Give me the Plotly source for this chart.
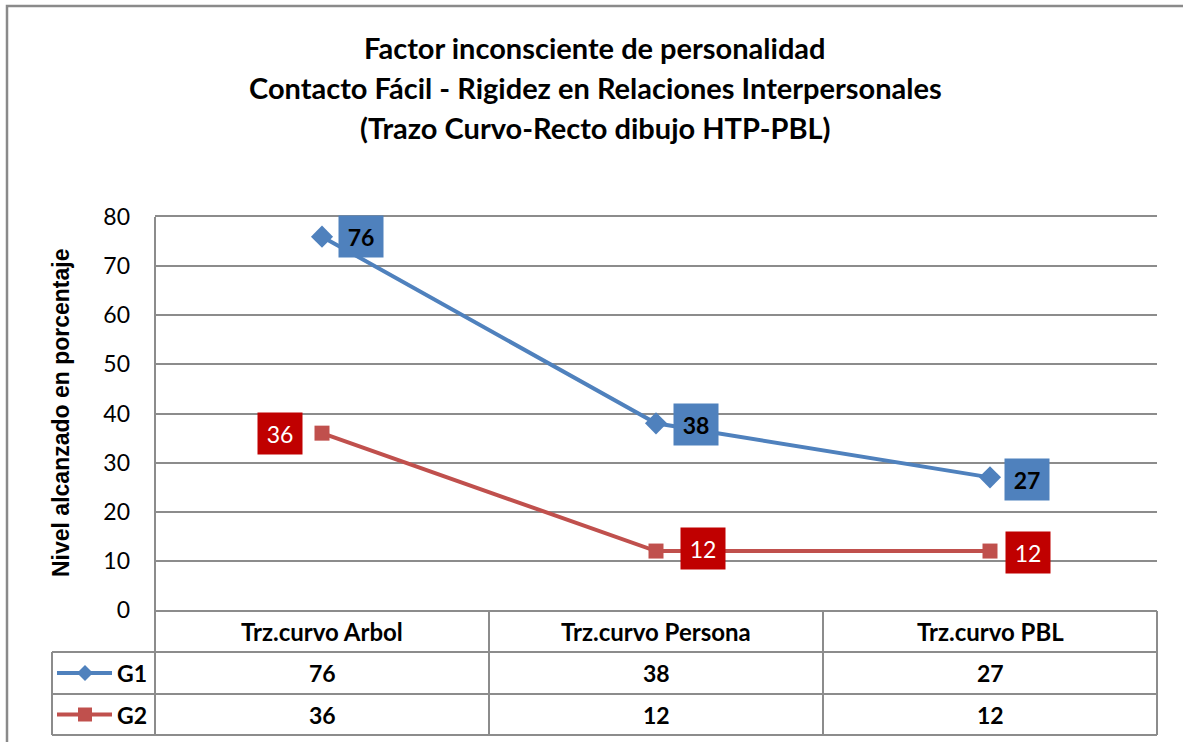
import plotly.graph_objects as go

# data
categorias = ["Trz.curvo Arbol", "Trz.curvo Persona", "Trz.curvo PBL"]
g1 = [76, 38, 27]
g2 = [36, 12, 12]
series_names = ["G1", "G2"]
titulo = ["Factor inconsciente de personalidad",
          "Contacto Fácil - Rigidez en Relaciones Interpersonales",
          "(Trazo Curvo-Recto dibujo HTP-PBL)"]
eje_y = "Nivel alcanzado en porcentaje"

BLUE = "#4F81BD"
RED = "#C0504D"
DARKRED = "#C00000"
GRID = "#8c8c8c"
FONT = "Lato"

# plot area in pixels
L, R, T, B = 155, 1157, 217, 610
W, H = R - L, B - T


def px(x):
    return (x - L) / W


def py(y):
    return (B - y) / H


fig = go.Figure()
fig.add_trace(go.Scatter(x=categorias, y=g1, name="G1", mode="lines+markers",
                         line=dict(color=BLUE, width=4),
                         marker=dict(symbol="diamond", size=17, color=BLUE)))
fig.add_trace(go.Scatter(x=categorias, y=g2, name="G2", mode="lines+markers",
                         line=dict(color=RED, width=4),
                         marker=dict(symbol="square", size=15, color=RED)))

ann = []
# title lines
for i, t in enumerate(titulo):
    ann.append(dict(text="<b>%s</b>" % t, x=px(595), y=py(47 + 40 * i), xref="paper", yref="paper",
                    showarrow=False, xanchor="center", yanchor="middle",
                    font=dict(family=FONT, size=29, color="black")))

# y axis title
ann.append(dict(text="<b>%s</b>" % eje_y, x=px(61), y=py(413), xref="paper", yref="paper",
                showarrow=False, textangle=-90, xanchor="center", yanchor="middle",
                font=dict(family="Liberation Sans", size=23, color="black")))

# data labels
shifts_g1 = [(39, 0), (40, -1), (37, -2)]
shifts_g2 = [(-42, 0), (47, 3), (38, -1)]
for c, v, (dx, dy) in zip(categorias, g1, shifts_g1):
    ann.append(dict(text="<b>%d</b>" % v, x=c, y=v, xref="x", yref="y", showarrow=False,
                    xshift=dx, yshift=dy, bgcolor=BLUE, width=42, height=39, borderpad=1,
                    font=dict(family=FONT, size=23, color="black")))
for c, v, (dx, dy) in zip(categorias, g2, shifts_g2):
    ann.append(dict(text="%d" % v, x=c, y=v, xref="x", yref="y", showarrow=False,
                    xshift=dx, yshift=dy, bgcolor=DARKRED, width=42, height=39, borderpad=1,
                    font=dict(family=FONT, size=23, color="white")))

# data table
rows_y = [611, 652, 694, 735]
for c in categorias:
    ann.append(dict(text="<b>%s</b>" % c, x=c, y=py((rows_y[0] + rows_y[1]) / 2), xref="x", yref="paper",
                    showarrow=False, yanchor="middle",
                    font=dict(family=FONT, size=24, color="black")))
for r, (vals, name) in enumerate(zip([g1, g2], series_names)):
    yc = py((rows_y[r + 1] + rows_y[r + 2]) / 2)
    for c, v in zip(categorias, vals):
        ann.append(dict(text="<b>%d</b>" % v, x=c, y=yc, xref="x", yref="paper",
                        showarrow=False, yanchor="middle",
                        font=dict(family=FONT, size=23, color="black")))
    ann.append(dict(text="<b>%s</b>" % name, x=px(115), y=yc, xref="paper", yref="paper",
                    showarrow=False, xanchor="left", yanchor="middle",
                    font=dict(family=FONT, size=23, color="black")))

shapes = []
line_style = dict(color=GRID, width=2)
# horizontal table lines
shapes.append(dict(type="line", xref="paper", yref="paper", x0=0, x1=1,
                   y0=py(rows_y[0]), y1=py(rows_y[0]), line=line_style))
for yy in rows_y[1:]:
    shapes.append(dict(type="line", xref="paper", yref="paper", x0=px(52), x1=1,
                       y0=py(yy), y1=py(yy), line=line_style))
# vertical table lines
for xx in [0.5, 1.5]:
    shapes.append(dict(type="line", xref="x", yref="paper", x0=xx, x1=xx,
                       y0=py(rows_y[0]), y1=py(rows_y[-1]), line=line_style))
shapes.append(dict(type="line", xref="paper", yref="paper", x0=1, x1=1,
                   y0=py(rows_y[0]), y1=py(rows_y[-1]), line=line_style))
shapes.append(dict(type="line", xref="paper", yref="paper", x0=0, x1=0,
                   y0=1, y1=py(rows_y[-1]), line=line_style))
shapes.append(dict(type="line", xref="paper", yref="paper", x0=px(52), x1=px(52),
                   y0=py(rows_y[1]), y1=py(rows_y[-1]), line=line_style))
# legend keys in table
for r, (col, sym) in enumerate([(BLUE, "diamond"), (RED, "square")]):
    yk = (rows_y[r + 1] + rows_y[r + 2]) / 2
    shapes.append(dict(type="line", xref="paper", yref="paper", x0=px(57), x1=px(112),
                       y0=py(yk), y1=py(yk), line=dict(color=col, width=4)))
    if sym == "diamond":
        path = "M %f,%f L %f,%f L %f,%f L %f,%f Z" % (
            px(85), py(yk - 8), px(93), py(yk), px(85), py(yk + 8), px(77), py(yk))
        shapes.append(dict(type="path", xref="paper", yref="paper", path=path,
                           fillcolor=col, line=dict(width=0)))
    else:
        shapes.append(dict(type="rect", xref="paper", yref="paper", x0=px(78), x1=px(92),
                           y0=py(yk - 7), y1=py(yk + 7), fillcolor=col, line=dict(width=0)))
# outer chart border
shapes.append(dict(type="rect", xref="paper", yref="paper", x0=px(7), x1=px(1200),
                   y0=py(760), y1=py(6), line=dict(color="#8a8a8a", width=2.5)))

fig.update_layout(
    width=1183, height=742,
    margin=dict(l=L, r=1183 - R, t=T, b=742 - B),
    paper_bgcolor="white", plot_bgcolor="white",
    showlegend=False,
    annotations=ann, shapes=shapes,
    xaxis=dict(type="category", range=[-0.5, 2.5], showticklabels=False, showgrid=False,
               zeroline=False, showline=True, mirror=True, linecolor=GRID, linewidth=2),
    yaxis=dict(range=[0, 80], dtick=10, showgrid=True, gridcolor=GRID, gridwidth=2,
               zeroline=False, showline=False, ticks="", ticklabelstandoff=24,
               tickfont=dict(family=FONT, size=23, color="black")),
)

fig.write_html("out.html", config={"displayModeBar": False},
               post_script="document.body.style.margin='0';")
